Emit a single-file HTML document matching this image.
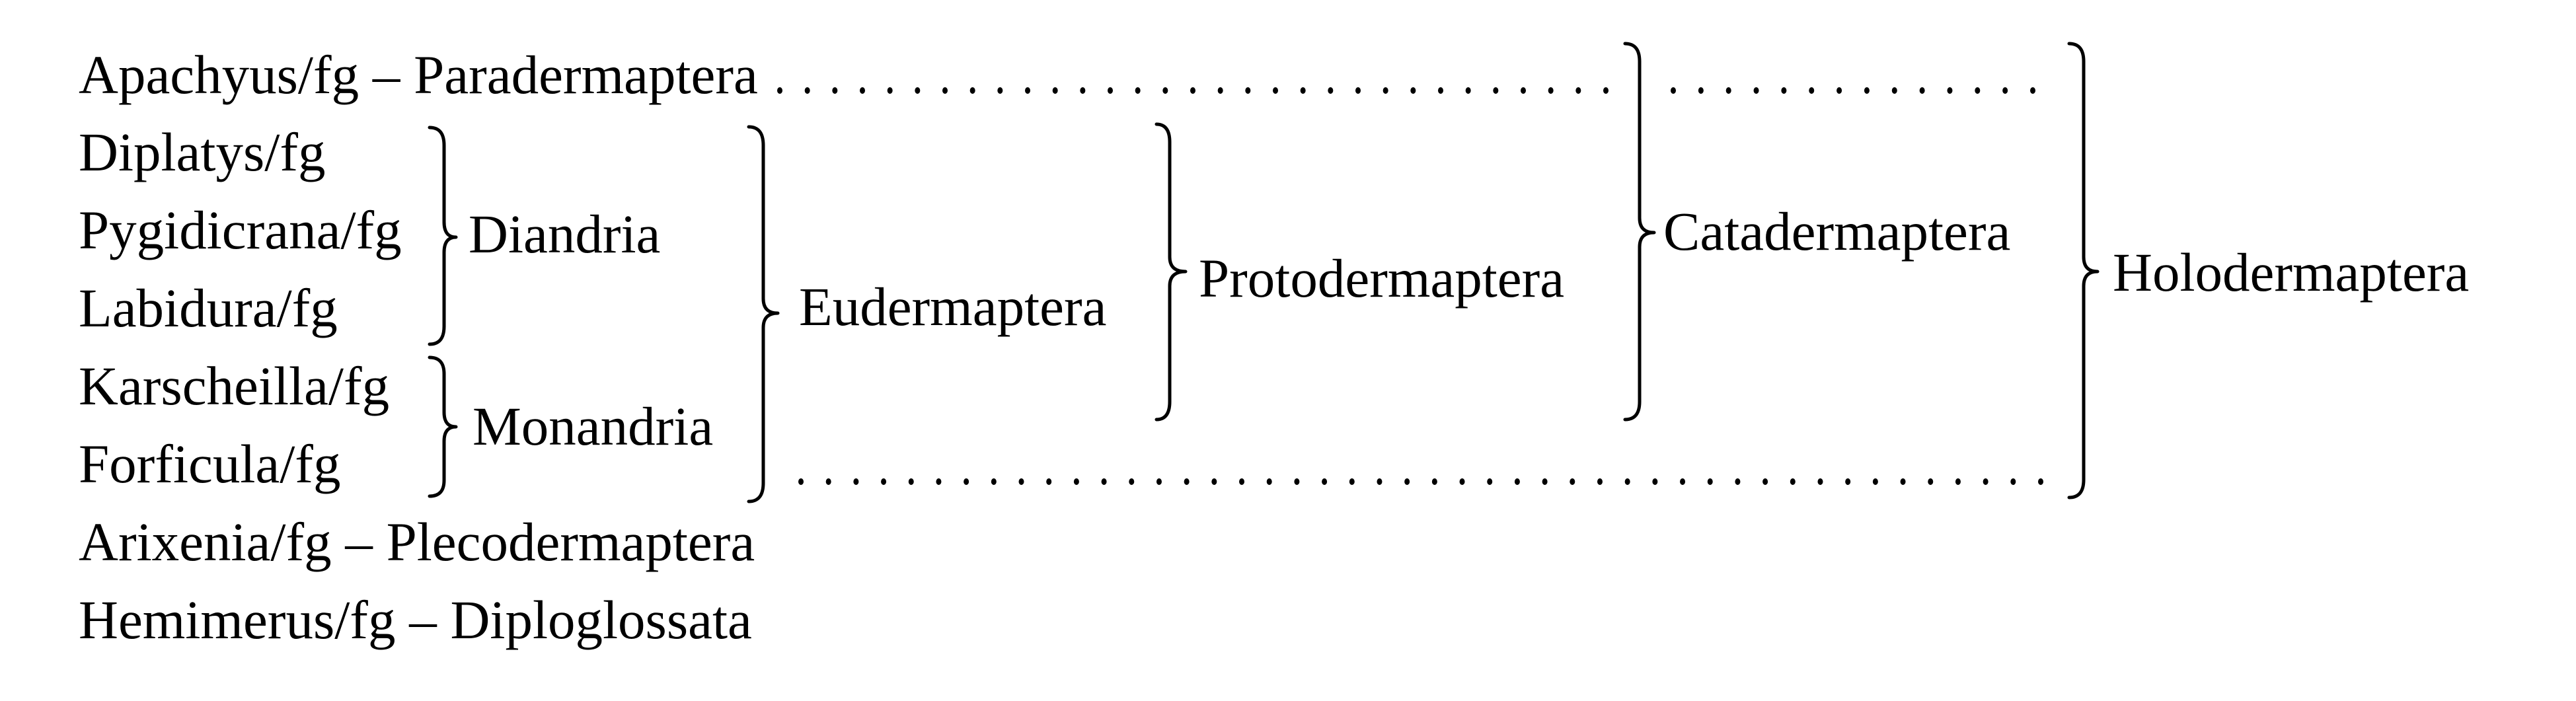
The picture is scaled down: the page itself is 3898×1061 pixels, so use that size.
<!DOCTYPE html>
<html><head><meta charset="utf-8"><style>
html,body{margin:0;padding:0;background:#fff;}
svg{display:block;}
text{font-family:"Liberation Serif",serif;font-size:83px;fill:#000;}
</style></head><body>
<svg width="3898" height="1061" viewBox="0 0 3898 1061" xmlns="http://www.w3.org/2000/svg">
<g>
<text x="119" y="141">Apachyus/fg – Paradermaptera</text>
<text x="119" y="258">Diplatys/fg</text>
<text x="119" y="376">Pygidicrana/fg</text>
<text x="119" y="494">Labidura/fg</text>
<text x="119" y="612">Karscheilla/fg</text>
<text x="119" y="730">Forficula/fg</text>
<text x="119" y="848">Arixenia/fg – Plecodermaptera</text>
<text x="119" y="966">Hemimerus/fg – Diploglossata</text>
<text x="709" y="382">Diandria</text>
<text x="715" y="673">Monandria</text>
<text x="1209" y="492">Eudermaptera</text>
<text x="1814" y="449">Protodermaptera</text>
<text x="2517" y="378">Catadermaptera</text>
<text x="3197" y="440">Holodermaptera</text>
</g>
<g fill="none" stroke="#000" stroke-width="5" stroke-linecap="round" stroke-linejoin="round">
<path d="M650,193 Q672,193 672,220 L672,336 Q672,359 690,359 Q672,359 672,382 L672,494 Q672,521 650,521"/>
<path d="M650,541 Q672,541 672,566 L672,624 Q672,646 690,646 Q672,646 672,668 L672,727 Q672,751 650,751"/>
<path d="M1133,192 Q1155,192 1155,220 L1155,452 Q1155,474 1177,474 Q1155,474 1155,496 L1155,731 Q1155,759 1133,759"/>
<path d="M1750,188 Q1770,188 1770,215 L1770,389 Q1770,411 1794,411 Q1770,411 1770,433 L1770,608 Q1770,635 1750,635"/>
<path d="M2459,66 Q2481,66 2481,93 L2481,330 Q2481,352 2503,352 Q2481,352 2481,374 L2481,608 Q2481,635 2459,635"/>
<path d="M3131,66 Q3153,66 3153,93 L3153,389 Q3153,411 3174,411 Q3153,411 3153,433 L3153,726 Q3153,753 3131,753"/>
</g>
<g fill="#000" id="dots"></g>
</svg>
<script>
(function(){
var g=document.getElementById('dots'),ns='http://www.w3.org/2000/svg';
function row(x0,x1,y,n){for(var i=0;i<n;i++){var c=document.createElementNS(ns,'ellipse');c.setAttribute('cx',x0+(x1-x0)*i/(n-1));c.setAttribute('cy',y);c.setAttribute('rx',4);c.setAttribute('ry',5);g.appendChild(c);}}
row(1180,2430,137,31);
row(2532,3076,137,14);
row(1212,3088,729,46);
})();
</script>
</body></html>
